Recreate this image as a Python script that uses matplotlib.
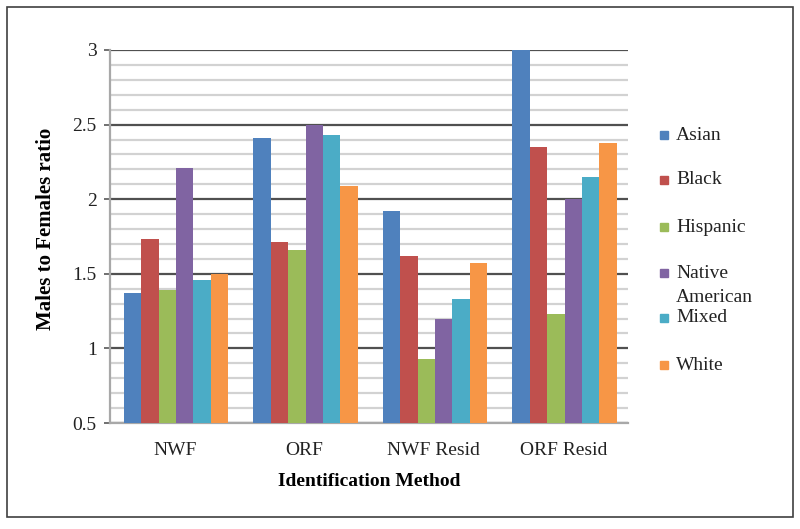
import matplotlib
matplotlib.use("Agg")
import matplotlib.pyplot as plt
import numpy as np
from matplotlib.patches import Rectangle

plt.rcParams['font.family'] = ['Liberation Serif', 'DejaVu Serif']

categories = ["NWF", "ORF", "NWF Resid", "ORF Resid"]
series = ["Asian", "Black", "Hispanic", "Native\nAmerican", "Mixed", "White"]
colors = ["#4F81BD", "#C0504D", "#9BBB59", "#8064A2", "#4BACC6", "#F79646"]

asian = [1.37, 2.41, 1.92, 3.00]
black = [1.73, 1.71, 1.62, 2.35]
hispanic = [1.39, 1.66, 0.93, 1.23]
native_american = [2.21, 2.50, 1.20, 2.00]
mixed = [1.46, 2.43, 1.33, 2.15]
white = [1.50, 2.09, 1.57, 2.38]
values = [asian, black, hispanic, native_american, mixed, white]

yticks = [0.5, 1, 1.5, 2, 2.5, 3]
ytick_labels = ["0.5", "1", "1.5", "2", "2.5", "3"]

W, H = 800, 529
fig = plt.figure(figsize=(W / 100, H / 100), dpi=100)
ax = fig.add_axes([110 / W, 1 - 423 / H, (628 - 110) / W, (423 - 50) / H])

x = np.arange(len(categories))
bw = 0.134
n = len(series)
for j, (name, vals, c) in enumerate(zip(series, values, colors)):
    ax.bar(x + (j - (n - 1) / 2) * bw + 0.01, np.array(vals) - 0.5, bw, bottom=0.5,
           color=c, edgecolor='none', zorder=3, label=name)

ax.set_xlim(-0.5, len(categories) - 0.5)
ax.set_ylim(0.5, 3.0)
ax.set_yticks(yticks)
ax.set_yticklabels(ytick_labels)
ax.set_yticks(np.arange(0.5, 3.0001, 0.1), minor=True)
ax.set_xticks(x)
ax.set_xticklabels(categories)

ax.grid(which='minor', axis='y', color='#d2d2d2', linewidth=1.6, zorder=1)
ax.grid(which='major', axis='y', color='#505050', linewidth=1.6, zorder=2)
ax.set_axisbelow(True)

for s in ['top', 'right']:
    ax.spines[s].set_visible(False)
ax.spines['left'].set_color('#a8a8a8')
ax.spines['left'].set_linewidth(1.6)
ax.spines['bottom'].set_color('#a8a8a8')
ax.spines['bottom'].set_linewidth(1.6)

ax.tick_params(axis='y', which='major', length=4.5, width=1.4, color='#707070',
               labelsize=14, pad=5, labelcolor='#222222')
ax.tick_params(axis='y', which='minor', length=0)
ax.tick_params(axis='x', length=0, labelsize=14, pad=14, labelcolor='#222222')

ax.set_ylabel("Males to Females ratio", fontsize=15, fontweight='bold')
ax.yaxis.set_label_coords(-0.104, 0.52)
ax.set_xlabel("Identification Method", fontsize=14, fontweight='bold')
ax.xaxis.set_label_coords(0.5, -0.134)

# legend (manual, Excel-style with wrapped text)
leg_y = [135, 180, 227, 273, 318, 365]
for name, c, yp in zip(series, colors, leg_y):
    fig.patches.append(Rectangle((660 / W, 1 - (yp + 4) / H), 8 / W, 8 / H,
                                 transform=fig.transFigure, color=c, figure=fig))
    for k, line in enumerate(name.split("\n")):
        fig.text(676 / W, 1 - (yp + 24 * k) / H, line, fontsize=14,
                 va='center', ha='left', color='#222222')

# outer border
fig.patches.append(Rectangle((7 / W, 1 - 517 / H), 786 / W, 510 / H,
                             transform=fig.transFigure, fill=False,
                             edgecolor='#404040', linewidth=1.2, figure=fig))

fig.savefig("out.png", dpi=100)
